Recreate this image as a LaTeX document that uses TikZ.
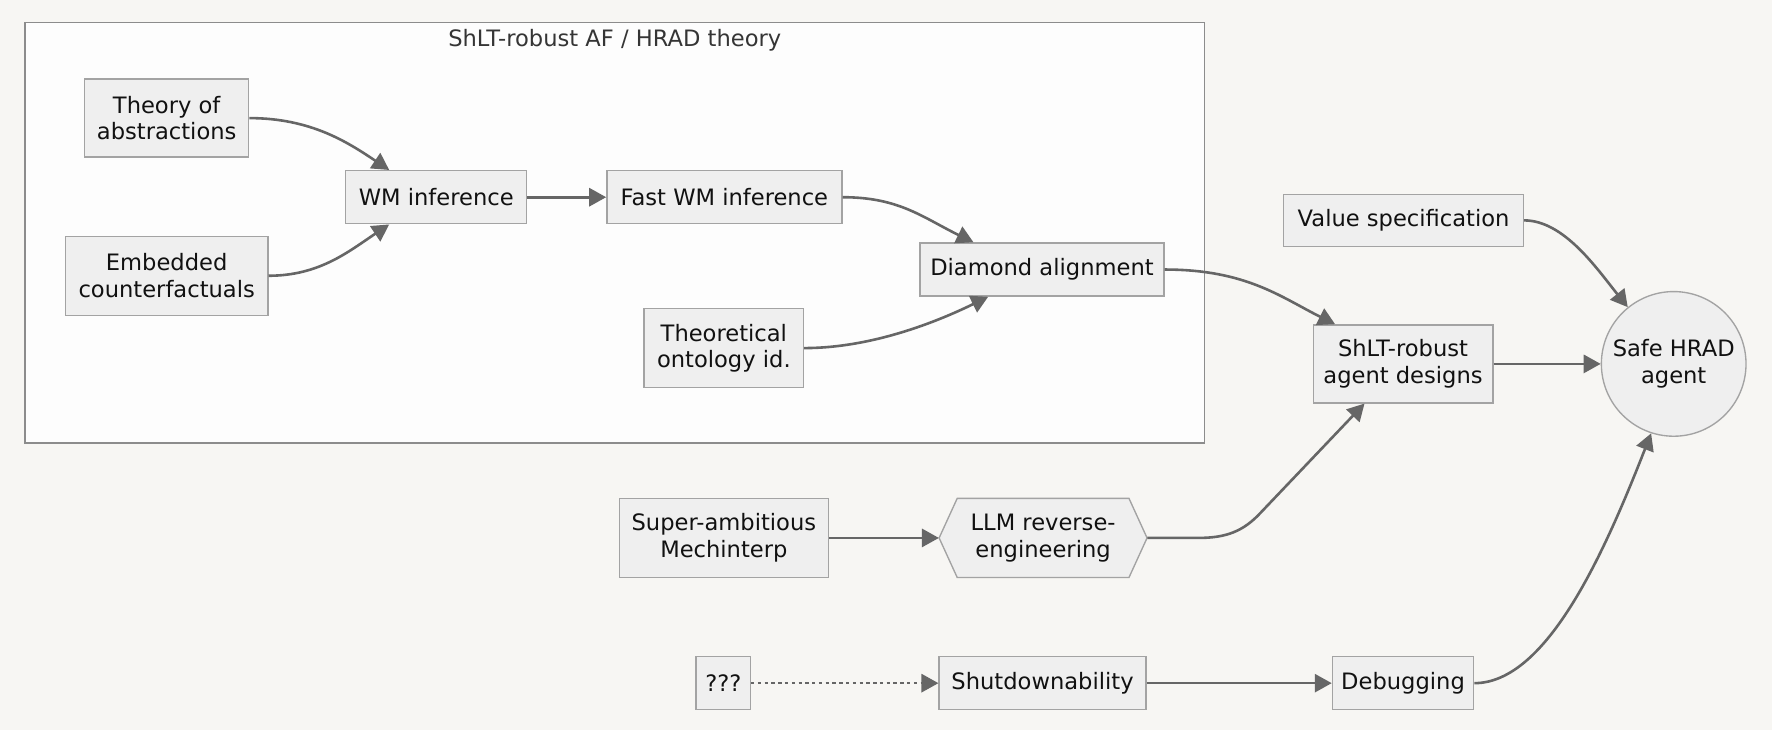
\documentclass[tikz,border=0pt]{standalone}
\usepackage{fontspec}
\setmainfont{DejaVu Sans}
\usetikzlibrary{arrows.meta,calc}
\definecolor{bg}{HTML}{F7F6F3}
\definecolor{clfill}{HTML}{FDFDFD}
\definecolor{clline}{HTML}{8C8C8C}
\definecolor{nodefill}{HTML}{EFEFEF}
\definecolor{nodeline}{HTML}{A3A3A3}
\definecolor{edgec}{HTML}{666666}
\definecolor{txt}{HTML}{111111}
\begin{document}
\begin{tikzpicture}[x=1pt,y=-1pt,
  font=\fontsize{20}{23.5}\selectfont,
  box/.style={draw=nodeline, fill=nodefill, line width=1.2pt, inner sep=0pt, align=center, text=txt},
  plain/.style={inner sep=0pt, align=center, text=txt},
  edge/.style={draw=edgec, line width=2.3pt, -{Triangle[length=15pt,width=16pt]}},
  dotedge/.style={edge, dash pattern=on 3pt off 3pt}]
\useasboundingbox (0,0) rectangle (1568,646);
\fill[bg] (0,0) rectangle (1568,646);
% cluster
\draw[draw=clline, fill=clfill, line width=1.2pt] (22,20) rectangle (1066,392);
\node[plain, text=txt!85] (title) at (544,36) {ShLT-robust AF / HRAD theory};
% nodes
\node[box, minimum width=145, minimum height=69] (theory) at (147.5,104.5) {Theory of\\abstractions};
\node[box, minimum width=179, minimum height=70] (emb) at (147.5,244) {Embedded\\counterfactuals};
\node[box, minimum width=160, minimum height=47] (wm) at (386,174.5) {WM inference};
\node[box, minimum width=208, minimum height=47] (fast) at (641,174.5) {Fast WM inference};
\node[box, minimum width=216, minimum height=47] (dia) at (922,238.5) {Diamond alignment};
\node[box, minimum width=141, minimum height=70] (theo) at (640.5,308) {Theoretical\\ontology id.};
\node[box, minimum width=212, minimum height=46] (val) at (1242,195) {Value specification};
\node[box, minimum width=159, minimum height=69] (shlt) at (1241.5,322) {ShLT-robust\\agent designs};
\node[box, circle, minimum size=128] (safe) at (1481,322) {Safe HRAD\\agent};
\node[box, minimum width=185, minimum height=70] (super) at (640.5,476) {Super-ambitious\\Mechinterp};
\draw[draw=nodeline, fill=nodefill, line width=1.2pt]
  (831,476) -- (847,441) -- (999,441) -- (1015,476) -- (999,511) -- (847,511) -- cycle;
\node[plain, minimum width=184, minimum height=70] (llm) at (923,476) {LLM reverse-\\engineering};
\node[box, minimum width=48, minimum height=47] (q) at (640,604.5) {???};
\node[box, minimum width=183, minimum height=47] (shut) at (922.5,604.5) {Shutdownability};
\node[box, minimum width=125, minimum height=47] (dbg) at (1241.5,604.5) {Debugging};
% edges
\draw[edge] (theory.east) .. controls +(55,0) and +(-36,-24) .. ($(wm.north west)+(39,0)$);
\draw[edge] (emb.east) .. controls +(45,0) and +(-36,24) .. ($(wm.south west)+(39,0)$);
\draw[edge] (wm.east) -- (fast.west);
\draw[edge] (fast.east) .. controls +(50,0) and +(-45,-22) .. ($(dia.north west)+(48,0)$);
\draw[edge] (theo.east) .. controls +(60,0) and +(-45,22) .. ($(dia.south west)+(61,0)$);
\draw[edge] (dia.east) .. controls +(72,0) and +(-48,-24) .. ($(shlt.north west)+(20,0)$);
\draw[edge] (val.east) .. controls +(35,0) and +(-28,-35) .. (safe.129);
\draw[edge] (shlt.east) -- (safe.west);
\draw[edge] (super.east) -- (llm.west);
\draw[edge] (llm.east) -- ++(45,0) .. controls +(25,0) and +(-15,16) .. ++(55,-22) -- ($(shlt.south west)+(46,0)$);
\draw[dotedge] (q.east) -- (shut.west);
\draw[edge] (shut.east) -- (dbg.west);
\draw[edge] (dbg.east) .. controls +(65,0) and +(-40,102) .. (safe.252);
\end{tikzpicture}
\end{document}
